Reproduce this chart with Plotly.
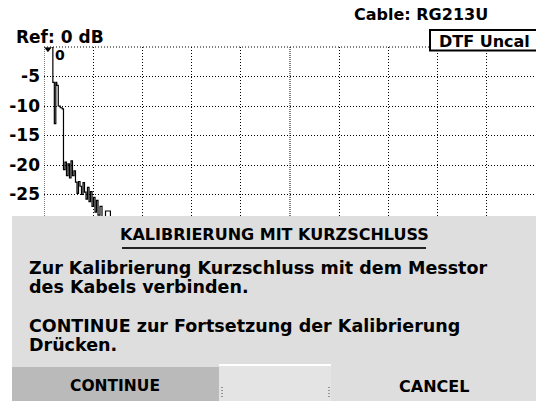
import plotly.graph_objects as go

# ---- data (distance in m, return loss in dB) ----
dist_m = [0.2, 1.8, 2.1, 2.4, 2.6, 2.9, 3.3, 3.7, 3.96, 4.27, 4.57, 4.88,
          5.18, 5.49, 5.79, 6.1, 6.4, 6.71, 7.01, 7.32, 7.62, 7.93, 8.23,
          8.54, 8.84, 9.15, 9.45, 9.76, 10.06, 10.37, 10.67, 10.98, 11.38,
          11.79, 12.5, 13.5, 15.0, 17.0, 20.0, 25.0, 30.0, 40.0, 50.0, 60.0,
          70.0, 80.0, 90.0, 100.0]
loss_db = [0.0, -6.0, -13.0, -6.0, -6.5, -10.0, -10.3, -10.5, -20.8, -19.5,
           -21.8, -19.8, -22.2, -19.3, -21.8, -21.0, -22.9, -24.8, -22.8,
           -23.6, -25.0, -23.0, -24.6, -25.8, -23.8, -26.2, -24.5, -27.0,
           -25.5, -28.0, -26.0, -28.5, -27.0, -29.0, -27.8, -29.5, -31.0,
           -32.5, -34.0, -35.0, -36.0, -37.0, -38.0, -38.5, -39.0, -39.5,
           -40.0, -40.0]
y_tick_vals = [-5, -10, -15, -20, -25, -30, -35, -40, -45]
y_tick_text = ["-5", "-10", "-15", "-20", "-25", "", "", "", ""]
x_grid_vals = [0, 10, 20, 30, 40, 60, 70, 80, 90]

W, H = 536, 401
L, R, T, B = 44, 0, 47, 59
PW, PH = W - L - R, H - T - B


def px(x):
    return (x - L) / PW


def py(y):
    return (H - B - y) / PH


FONT = "DejaVu Sans"

fig = go.Figure()
fig.add_trace(go.Scatter(x=dist_m, y=loss_db, mode="lines",
                         line=dict(color="black", width=1.2, shape="hv"),
                         hoverinfo="skip", showlegend=False))
fig.add_trace(go.Scatter(x=[dist_m[0] + 0.6], y=[loss_db[0] - 0.4], mode="markers",
                         marker=dict(symbol="triangle-down", size=6, color="black"),
                         hoverinfo="skip", showlegend=False))

shapes = []
# denser dotted left and center lines
for xv in [0, 50]:
    shapes.append(dict(type="line", xref="x", yref="paper", x0=xv, x1=xv, y0=0, y1=1,
                       line=dict(color="black", width=1, dash="1px,1px"), layer="below"))
# top grid line (0 dB) up to the DTF box
shapes.append(dict(type="line", xref="paper", yref="paper", x0=0, x1=px(430), y0=1, y1=1,
                   line=dict(color="black", width=1, dash="1px,2px"), layer="below"))
# DTF Uncal box
shapes.append(dict(type="rect", xref="paper", yref="paper", x0=px(430), x1=px(540),
                   y0=py(50.5), y1=py(30), fillcolor="white",
                   line=dict(color="black", width=2), layer="above"))
# dialog
shapes.append(dict(type="rect", xref="paper", yref="paper", x0=px(12), x1=px(537),
                   y0=py(402), y1=py(216), fillcolor="#dedede",
                   line=dict(width=0), layer="above"))
# title underline
shapes.append(dict(type="line", xref="paper", yref="paper", x0=px(122), x1=px(426),
                   y0=py(248), y1=py(248), line=dict(color="#222", width=2), layer="above"))
# buttons
shapes.append(dict(type="rect", xref="paper", yref="paper", x0=px(12), x1=px(219),
                   y0=py(402), y1=py(367), fillcolor="#bababa",
                   line=dict(width=0), layer="above"))
shapes.append(dict(type="rect", xref="paper", yref="paper", x0=px(219), x1=px(331),
                   y0=py(402), y1=py(366), fillcolor="#e4e4e4",
                   line=dict(width=0), layer="above"))
shapes.append(dict(type="line", xref="paper", yref="paper", x0=px(219), x1=px(331),
                   y0=py(365), y1=py(365), line=dict(color="white", width=2), layer="above"))
for xx in [222, 329]:
    shapes.append(dict(type="line", xref="paper", yref="paper", x0=px(xx), x1=px(xx),
                       y0=py(397), y1=py(387),
                       line=dict(color="#444", width=1, dash="1px,2px"), layer="above"))

ann = []


def text(s, x, y, size=17.5, xanchor="left"):
    ann.append(dict(text="<b>" + s + "</b>", xref="paper", yref="paper", x=px(x), y=py(y),
                    xanchor=xanchor, yanchor="middle", showarrow=False,
                    font=dict(family=FONT, size=size, color="black")))


text("Cable: RG213U", 490, 15, size=16, xanchor="right")
text("Ref: 0 dB", 14, 37, size=17)
text("DTF Uncal", 484, 41, size=16, xanchor="center")
text("0", 60, 55, size=14, xanchor="center")
text("KALIBRIERUNG MIT KURZSCHLUSS", 274, 235, size=16, xanchor="center")
text("Zur Kalibrierung Kurzschluss mit dem Messtor", 27, 268)
text("des Kabels verbinden.", 27, 287)
text("CONTINUE zur Fortsetzung der Kalibrierung", 27, 326)
text("Drücken.", 27, 345)
text("CONTINUE", 115, 386, size=15.5, xanchor="center")
text("CANCEL", 434, 386, size=16, xanchor="center")

fig.update_layout(
    width=W, height=H,
    margin=dict(l=L, r=R, t=T, b=B, pad=0),
    paper_bgcolor="white", plot_bgcolor="white",
    showlegend=False,
    shapes=shapes, annotations=ann,
    xaxis=dict(range=[0, 100], tickvals=x_grid_vals, showticklabels=False,
               showgrid=True, gridcolor="black", gridwidth=1, griddash="1px,2px",
               zeroline=False, showline=False, ticks="", fixedrange=True),
    yaxis=dict(range=[-50, 0], tickvals=y_tick_vals, ticktext=y_tick_text,
               showgrid=True, gridcolor="black", gridwidth=1, griddash="1px,2px",
               zeroline=False, showline=False, ticks="", ticklabelstandoff=3,
               tickfont=dict(family=FONT, size=17, color="black", weight="bold"),
               fixedrange=True),
)

fig.write_html("out.html", config={"staticPlot": True},
               post_script="document.body.style.margin='0';document.body.style.overflow='hidden';")
